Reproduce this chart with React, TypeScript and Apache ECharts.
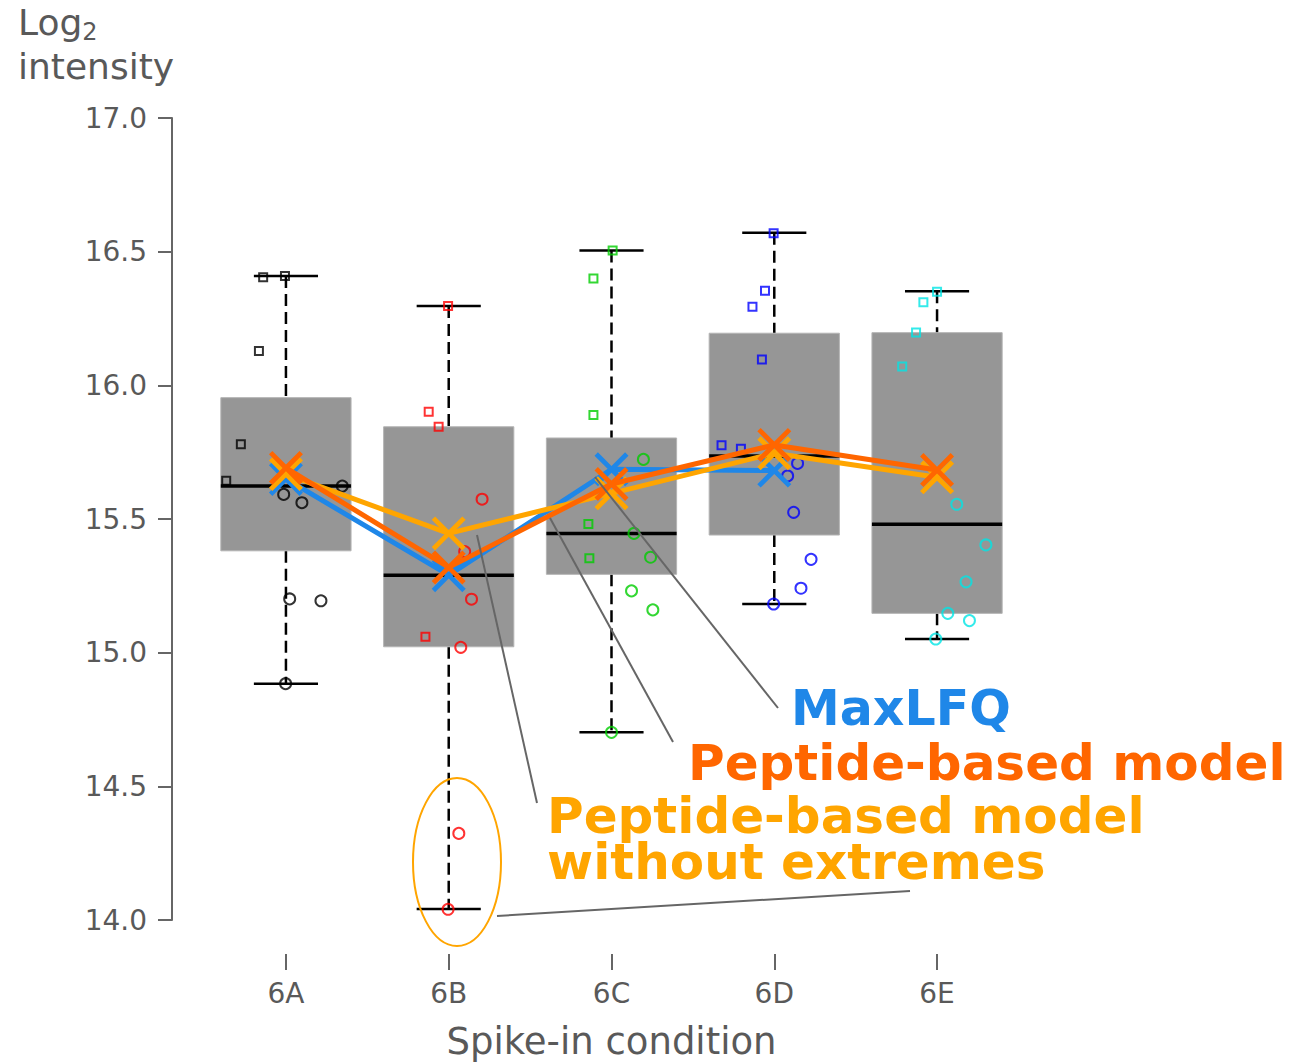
import React, { useEffect, useRef } from "react";
import * as echarts from "echarts";

// ---------- data ----------
const categories = ["6A", "6B", "6C", "6D", "6E"];
const pointColors = ["#000000", "#FF0000", "#00CD00", "#0000FF", "#00E5E5"];

const whiskerLow = [14.884, 14.041, 14.702, 15.182, 15.051];
const q1 = [15.381, 15.022, 15.293, 15.44, 15.147];
const medians = [15.623, 15.29, 15.446, 15.736, 15.48];
const q3 = [15.954, 15.845, 15.803, 16.195, 16.197];
const whiskerHigh = [16.409, 16.297, 16.504, 16.571, 16.352];

const squareValues = [
  [16.404, 16.409, 16.128, 15.78, 15.643],
  [16.297, 15.901, 15.845, 15.06],
  [16.504, 16.4, 15.889, 15.481, 15.353],
  [16.569, 16.354, 16.294, 16.097, 15.776, 15.763],
  [16.35, 16.311, 16.198, 16.07],
];
const squareJitter = [
  [-0.14, -0.006, -0.166, -0.277, -0.367],
  [-0.004, -0.123, -0.062, -0.143],
  [0.007, -0.111, -0.111, -0.142, -0.136],
  [-0.004, -0.057, -0.134, -0.076, -0.324, -0.205],
  [0.0, -0.084, -0.129, -0.214],
];
const circleValues = [
  [15.592, 15.561, 15.623, 15.201, 15.194, 14.884],
  [15.574, 15.378, 15.2, 15.02, 14.324, 14.04],
  [15.723, 15.446, 15.357, 15.231, 15.16, 14.702],
  [15.708, 15.661, 15.525, 15.349, 15.241, 15.182],
  [15.555, 15.403, 15.265, 15.147, 15.12, 15.051],
];
const circleJitter = [
  [-0.014, 0.098, 0.346, 0.023, 0.215, -0.002],
  [0.205, 0.098, 0.14, 0.074, 0.062, -0.004],
  [0.196, 0.138, 0.24, 0.123, 0.254, 0.0],
  [0.143, 0.082, 0.119, 0.226, 0.164, -0.004],
  [0.121, 0.3, 0.178, 0.066, 0.199, -0.008],
];

const maxLFQ: (number | null)[] = [15.65, 15.29, 15.686, 15.681, null];
const peptideModel = [15.691, 15.319, 15.631, 15.777, 15.683];
const peptideNoExtremes = [15.668, 15.446, 15.596, 15.746, 15.656];

const yMin = 14;
const yMax = 17;
const yStep = 0.5;

// ---------- styles ----------
const FONT = "DejaVu Sans";
const TEXT_GRAY = "#595959";
const AXIS_GRAY = "#666666";
const BLUE = "#1F87E8";
const RED_ORANGE = "#FF6600";
const ORANGE = "#FFA500";
const X_SYMBOL =
  "path://M0,10L10,0L50,40L90,0L100,10L60,50L100,90L90,100L50,60L10,100L0,90L40,50Z";

function lineSeries(name: string, values: (number | null)[], color: string, z: number) {
  const data: number[][] = [];
  values.forEach((v, i) => {
    if (v !== null) data.push([i, v]);
  });
  return {
    name,
    type: "line",
    data,
    z,
    symbol: X_SYMBOL,
    symbolSize: 34,
    symbolKeepAspect: true,
    lineStyle: { color, width: 5 },
    itemStyle: { color },
    emphasis: { disabled: true },
  };
}

export default function App() {
  const ref = useRef<HTMLDivElement>(null);

  useEffect(() => {
    if (!ref.current) return;
    const chart = echarts.init(ref.current, undefined, { renderer: "svg" });

    const boxData = categories.map((_, i) => [
      i,
      whiskerLow[i],
      q1[i],
      medians[i],
      q3[i],
      whiskerHigh[i],
    ]);

    const squareData: any[] = [];
    const circleData: any[] = [];
    categories.forEach((_, i) => {
      squareValues[i].forEach((v, j) => {
        squareData.push({
          value: [i + squareJitter[i][j], v],
          itemStyle: { borderColor: pointColors[i] },
        });
      });
      circleValues[i].forEach((v, j) => {
        circleData.push({
          value: [i + circleJitter[i][j], v],
          itemStyle: { borderColor: pointColors[i] },
        });
      });
    });

    const option: any = {
      animation: false,
      backgroundColor: "#ffffff",
      textStyle: { fontFamily: FONT },
      grid: {
        left: 172,
        right: 238,
        top: 118,
        bottom: 143,
        containLabel: false,
        outerBoundsMode: "none",
      },
      xAxis: {
        type: "value",
        min: -0.7,
        max: 4.7,
        offset: 34,
        axisLine: { show: false, onZero: false },
        splitLine: { show: false },
        axisTick: {
          show: true,
          customValues: categories.map((_, i) => i),
          length: 16,
          lineStyle: { color: AXIS_GRAY, width: 2 },
        },
        axisLabel: {
          customValues: categories.map((_, i) => i),
          formatter: (v: number) => categories[Math.round(v)] ?? "",
          fontFamily: FONT,
          fontSize: 28,
          color: TEXT_GRAY,
          margin: 25,
        },
        name: "Spike-in condition",
        nameLocation: "middle",
        nameGap: 69,
        nameTextStyle: { fontFamily: FONT, fontSize: 37, color: TEXT_GRAY },
      },
      yAxis: {
        type: "value",
        min: yMin,
        max: yMax,
        interval: yStep,
        axisLine: { show: true, onZero: false, lineStyle: { color: AXIS_GRAY, width: 2 } },
        axisTick: { show: true, length: 14, lineStyle: { color: AXIS_GRAY, width: 2 } },
        splitLine: { show: false },
        axisLabel: {
          formatter: (v: number) => v.toFixed(1),
          fontFamily: FONT,
          fontSize: 28,
          color: TEXT_GRAY,
          margin: 25,
        },
      },
      series: [
        {
          type: "custom",
          name: "boxes",
          z: 1,
          encode: { x: 0, y: [1, 2, 3, 4, 5] },
          data: boxData,
          renderItem: (params: any, api: any) => {
            const x = api.value(0);
            const lo = api.value(1);
            const b1 = api.value(2);
            const md = api.value(3);
            const b3 = api.value(4);
            const hi = api.value(5);
            const tl = api.coord([x - 0.4, b3]);
            const br = api.coord([x + 0.4, b1]);
            const mL = api.coord([x - 0.4, md]);
            const mR = api.coord([x + 0.4, md]);
            const pHi = api.coord([x, hi]);
            const pLo = api.coord([x, lo]);
            const pTop = api.coord([x, b3]);
            const pBot = api.coord([x, b1]);
            const cHiL = api.coord([x - 0.197, hi]);
            const cHiR = api.coord([x + 0.197, hi]);
            const cLoL = api.coord([x - 0.197, lo]);
            const cLoR = api.coord([x + 0.197, lo]);
            const dash = { stroke: "#000", lineWidth: 2.5, lineDash: [12, 6] };
            const solid = { stroke: "#000", lineWidth: 2.5 };
            return {
              type: "group",
              children: [
                {
                  type: "line",
                  shape: { x1: pHi[0], y1: pHi[1], x2: pTop[0], y2: pTop[1] },
                  style: dash,
                },
                {
                  type: "line",
                  shape: { x1: pBot[0], y1: pBot[1], x2: pLo[0], y2: pLo[1] },
                  style: dash,
                },
                {
                  type: "line",
                  shape: { x1: cHiL[0], y1: cHiL[1], x2: cHiR[0], y2: cHiR[1] },
                  style: solid,
                },
                {
                  type: "line",
                  shape: { x1: cLoL[0], y1: cLoL[1], x2: cLoR[0], y2: cLoR[1] },
                  style: solid,
                },
                {
                  type: "rect",
                  shape: {
                    x: tl[0],
                    y: tl[1],
                    width: br[0] - tl[0],
                    height: br[1] - tl[1],
                  },
                  style: { fill: "#969696", stroke: "#b4b4b4", lineWidth: 1 },
                },
                {
                  type: "line",
                  shape: { x1: mL[0], y1: mL[1], x2: mR[0], y2: mR[1] },
                  style: { stroke: "#000", lineWidth: 3.5 },
                },
              ],
            };
          },
        },
        {
          type: "scatter",
          name: "squares",
          z: 2,
          symbol: "rect",
          symbolSize: 8,
          itemStyle: { color: "rgba(0,0,0,0)", borderWidth: 2 },
          emphasis: { disabled: true },
          data: squareData,
        },
        {
          type: "scatter",
          name: "circles",
          z: 2,
          symbol: "circle",
          symbolSize: 11,
          itemStyle: { color: "rgba(0,0,0,0)", borderWidth: 2 },
          emphasis: { disabled: true },
          data: circleData,
        },
        lineSeries("MaxLFQ", maxLFQ, BLUE, 3),
        lineSeries("Peptide-based model without extremes", peptideNoExtremes, ORANGE, 4),
        lineSeries("Peptide-based model", peptideModel, RED_ORANGE, 5),
      ],
      graphic: [
        {
          type: "text",
          left: 18,
          top: 4,
          style: {
            text: "{a|Log}{s|2}\n{a|intensity}",
            fontFamily: FONT,
            fill: TEXT_GRAY,
            rich: {
              a: { fontFamily: FONT, fontSize: 36, lineHeight: 44, fill: TEXT_GRAY },
              s: {
                fontFamily: FONT,
                fontSize: 24,
                lineHeight: 24,
                verticalAlign: "bottom",
                fill: TEXT_GRAY,
              },
            },
          },
        },
        // leader lines
        {
          type: "line",
          z: 100,
          shape: { x1: 595, y1: 477, x2: 778, y2: 708 },
          style: { stroke: AXIS_GRAY, lineWidth: 2 },
        },
        {
          type: "line",
          z: 100,
          shape: { x1: 550, y1: 518, x2: 673, y2: 742 },
          style: { stroke: AXIS_GRAY, lineWidth: 2 },
        },
        {
          type: "line",
          z: 100,
          shape: { x1: 477, y1: 535, x2: 537, y2: 803 },
          style: { stroke: AXIS_GRAY, lineWidth: 2 },
        },
        {
          type: "line",
          z: 100,
          shape: { x1: 497, y1: 916, x2: 910, y2: 891 },
          style: { stroke: AXIS_GRAY, lineWidth: 2 },
        },
        {
          type: "ellipse",
          z: 100,
          shape: { cx: 457, cy: 862, rx: 44, ry: 84 },
          style: { fill: "none", stroke: ORANGE, lineWidth: 2 },
        },
        {
          type: "text",
          z: 100,
          x: 791,
          y: 708,
          style: {
            text: "MaxLFQ",
            fontFamily: FONT,
            fontWeight: "bold",
            fontSize: 49,
            fill: BLUE,
            verticalAlign: "middle",
          },
        },
        {
          type: "text",
          z: 100,
          x: 688,
          y: 763,
          style: {
            text: "Peptide-based model",
            fontFamily: FONT,
            fontWeight: "bold",
            fontSize: 50,
            fill: RED_ORANGE,
            verticalAlign: "middle",
          },
        },
        {
          type: "text",
          z: 100,
          x: 547,
          y: 793,
          style: {
            text: "Peptide-based model\nwithout extremes",
            fontFamily: FONT,
            fontWeight: "bold",
            fontSize: 50,
            lineHeight: 46,
            fill: ORANGE,
            verticalAlign: "top",
          },
        },
      ],
    };

    chart.setOption(option);
    return () => chart.dispose();
  }, []);

  return (
    <div
      ref={ref}
      style={{ position: "fixed", left: 0, top: 0, width: 1289, height: 1063, background: "#fff" }}
    />
  );
}
